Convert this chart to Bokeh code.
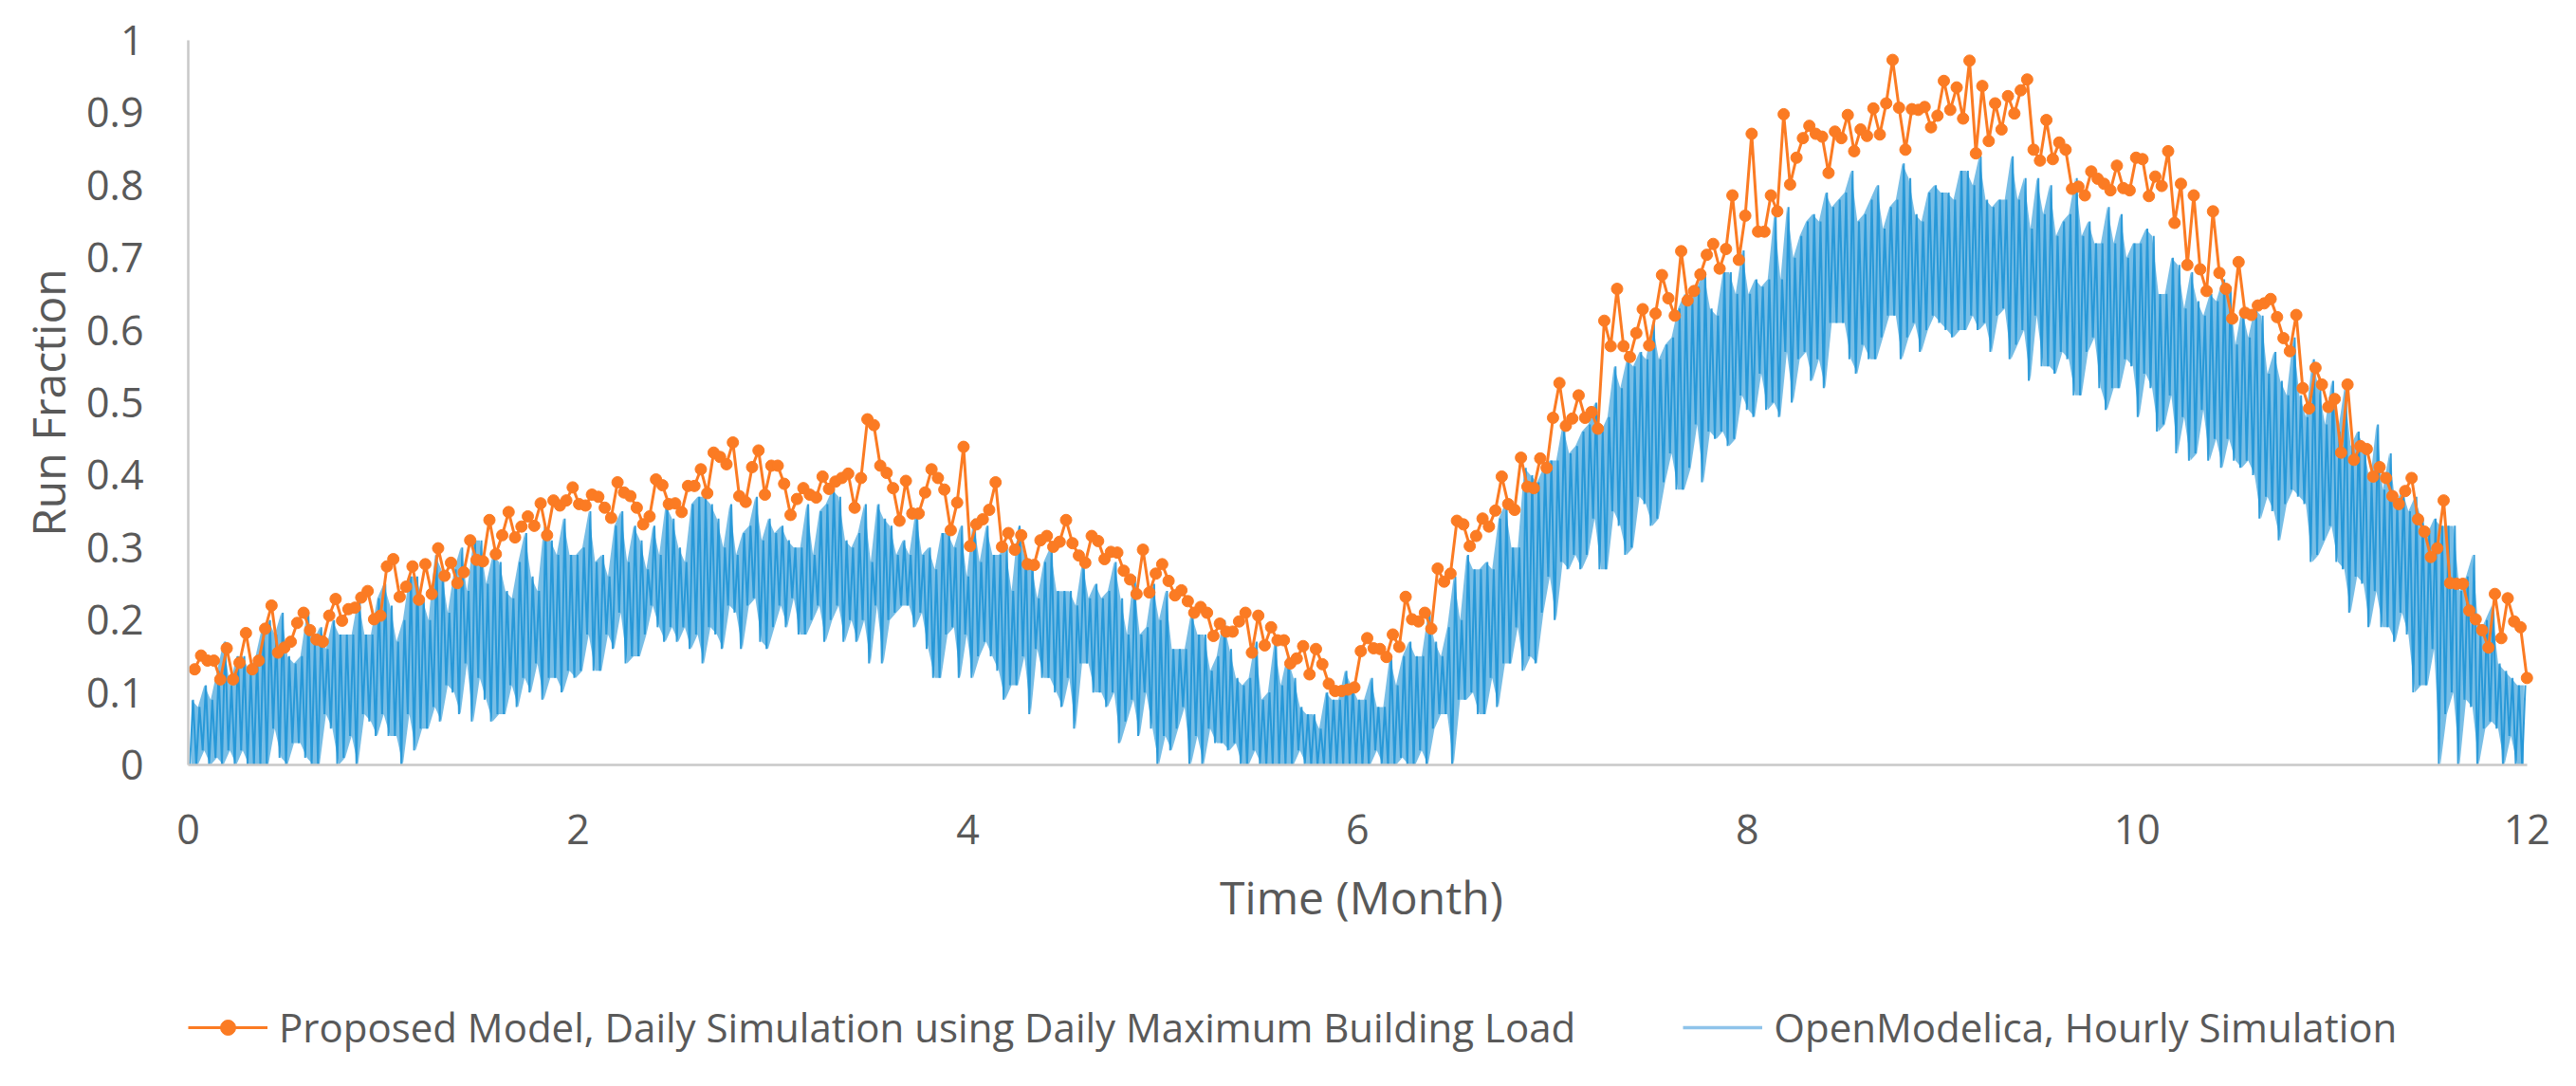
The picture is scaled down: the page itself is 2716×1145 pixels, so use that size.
import numpy as np
from bokeh.plotting import figure
from bokeh.layouts import column
from bokeh.models import Range1d, Legend, LegendItem, FixedTicker, CustomJSTickFormatter
from bokeh.embed import file_html
from bokeh.resources import INLINE

# ---------------- data ----------------
# Proposed model, daily simulation (one value per day, day 1..365)
proposed = [
    .132, .151, .144, .144, .118, .161, .118, .141, .182, .132,
    .144, .188, .220, .155, .162, .170, .196, .210, .186, .173,
    .170, .206, .229, .199, .215, .217, .231, .240, .201, .206,
    .274, .284, .232, .246, .274, .228, .277, .236, .299, .261,
    .279, .251, .266, .310, .283, .281, .338, .291, .317, .349,
    .314, .329, .343, .330, .361, .317, .365, .358, .365, .383,
    .360, .358, .373, .370, .355, .341, .390, .376, .371, .355,
    .332, .343, .394, .386, .360, .361, .349, .385, .385, .408,
    .375, .431, .425, .415, .445, .371, .363, .411, .434,
    .373, .413, .413, .388, .345, .367, .382, .373, .369, .398,
    .381, .391, .396, .402, .355, .396, .477, .469, .413, .403,
    .382, .337, .392, .347, .347, .376, .408, .396, .380, .324,
    .362, .439, .302, .332, .339, .352, .390, .301, .320, .297, .317,
    .277, .276, .310, .316, .301, .308, .338, .306, .289, .279,
    .316, .309, .284, .294, .293, .268, .256, .236, .297, .238,
    .264, .277, .254, .234, .241, .226, .210, .218, .210, .178, .195,
    .184, .184, .198, .210, .155, .206, .165, .190, .172, .172,
    .140, .147, .164, .125, .160, .139, .112, .102,
    .102, .104, .107, .157, .175, .161, .160, .149, .180, .163,
    .232, .201, .198, .210, .188, .271, .253, .264, .337, .332,
    .302, .316, .340, .329, .351, .398, .360, .352, .424, .384,
    .382, .423, .410, .479, .527, .468, .478, .510, .479, .487,
    .464, .613, .578, .657, .578, .563, .596, .629, .579, .623,
    .676, .644, .620, .709, .641, .654, .677, .704, .719, .685,
    .712, .786, .697, .758, .871, .736, .736, .786, .764, .898,
    .801, .838, .865, .882, .871, .867, .817, .874, .865, .897,
    .847, .877, .868, .906, .870, .913, .973, .907, .849, .905,
    .904, .908, .880, .896, .944, .904, .935, .892, .972, .844,
    .937, .861, .913, .877, .923, .899, .931, .946, .849, .834,
    .890, .836, .859, .849, .795, .798, .786, .819, .809, .802,
    .793, .827, .796, .793, .838, .836, .785, .812, .799, .847, .748,
    .802, .690, .786, .684, .654, .764, .679, .657, .616, .694,
    .624, .621, .634, .637, .643, .618, .589, .571, .621, .520,
    .492, .548, .525, .494, .505, .431, .525, .421, .440, .436,
    .398, .411, .396, .371, .360, .378, .396, .339, .322, .287, .299,
    .365, .251, .250, .250, .213, .201, .186, .162, .236, .175,
    .230, .198, .190, .120,
]

# OpenModelica hourly simulation, summarised as daily high / low (percent)
hourly_hi = [
    9, 8, 11, 9, 13, 17, 11, 15, 15, 13,
    15, 19, 20, 18, 21, 15, 14, 15, 21, 17,
    19, 16, 20, 18, 18, 18, 23, 18, 18, 23,
    25, 22, 17, 20, 26, 26, 23, 20, 29, 27,
    21, 27, 30, 24, 31, 31, 25, 29, 28, 24,
    23, 28, 32, 26, 24, 33, 31, 29, 34, 29,
    29, 30, 35, 28, 29, 26, 33, 35, 28, 33,
    31, 27, 33, 29, 36, 34, 30, 28, 36, 37,
    37, 36, 34, 30, 36, 29, 32, 33, 37, 31,
    34, 32, 33, 31, 30, 30, 36, 29, 35, 36,
    38, 37, 31, 30, 32, 36, 28, 36, 34, 33,
    29, 31, 29, 35, 29, 30, 27, 32, 32, 30,
    33, 26, 34, 28, 33, 29, 29, 30, 24, 33,
    29, 28, 23, 28, 30, 24, 24, 24, 22, 28,
    23, 25, 23, 24, 28, 23, 18, 26, 18, 19,
    25, 20, 24, 16, 16, 16, 21, 18, 18, 13,
    15, 20, 16, 12, 11, 12, 17, 9, 10, 17,
    11, 15, 12, 8, 7, 7, 5, 10, 9, 9,
    13, 11, 9, 9, 12, 8, 8, 15, 11, 15,
    17, 15, 15, 21, 17, 15, 19, 26, 20, 29,
    27, 27, 28, 27, 34, 36, 30, 30, 41, 40,
    39, 41, 42, 42, 47, 43, 44, 46, 47, 50,
    46, 48, 55, 52, 56, 55, 57, 56, 61, 56,
    58, 59, 63, 65, 64, 66, 68, 63, 62, 68,
    68, 65, 71, 65, 67, 66, 67, 76, 67, 77,
    70, 73, 75, 76, 75, 79, 77, 78, 79, 82,
    75, 76, 78, 80, 74, 77, 78, 83, 81, 76,
    75, 79, 80, 79, 79, 78, 82, 82, 80, 84,
    78, 77, 78, 78, 84, 78, 81, 74, 81, 76,
    80, 73, 75, 76, 81, 73, 75, 72, 72, 77,
    72, 76, 70, 72, 72, 74, 73, 65, 65, 70,
    69, 63, 68, 64, 62, 65, 64, 67, 66, 58,
    63, 59, 63, 62, 54, 57, 53, 51, 59, 51,
    48, 56, 52, 47, 53, 46, 52, 44, 46, 44,
    39, 47, 38, 43, 36, 38, 35, 37, 34, 32,
    34, 33, 33, 33, 24, 26, 29, 18, 20, 22,
    14, 13, 12, 11, 11,
]
hourly_lo = [
    0, 0, 2, 0, 1, 0, 2, 0, 2, 0,
    0, 0, 0, 5, 1, 0, 3, 3, 1, 0,
    0, 7, 5, 0, 1, 4, 0, 7, 6, 4,
    7, 4, 4, 0, 7, 2, 5, 5, 8, 6,
    11, 10, 7, 14, 6, 12, 9, 6, 7, 7,
    11, 8, 12, 10, 14, 9, 12, 12, 10, 13,
    12, 13, 18, 13, 13, 18, 16, 21, 14, 15,
    15, 18, 22, 19, 17, 19, 17, 19, 16, 18,
    14, 19, 18, 16, 22, 21, 16, 22, 23, 17,
    16, 19, 22, 19, 23, 18, 18, 20, 22, 17,
    20, 22, 17, 20, 17, 20, 14, 22, 14, 20,
    21, 22, 22, 19, 21, 16, 12, 12, 18, 19,
    12, 18, 12, 15, 17, 15, 13, 9, 11, 11,
    15, 7, 16, 12, 12, 10, 8, 12, 5, 14,
    14, 10, 10, 8, 10, 3, 6, 9, 4, 10,
    5, 0, 4, 2, 5, 8, 0, 4, 0, 5,
    3, 3, 2, 3, 0, 0, 2, 0, 0, 0,
    0, 0, 0, 2, 0, 0, 0, 0, 0, 0,
    0, 0, 0, 0, 0, 2, 0, 0, 0, 1,
    0, 0, 2, 0, 5, 7, 7, 0, 9, 9,
    10, 7, 7, 12, 8, 14, 14, 19, 13, 15,
    14, 21, 26, 20, 28, 27, 29, 27, 29, 34,
    27, 27, 35, 33, 29, 30, 37, 36, 33, 34,
    39, 43, 38, 38, 41, 47, 39, 46, 45, 46,
    44, 45, 51, 49, 48, 54, 49, 50, 48, 57,
    50, 56, 57, 53, 56, 52, 61, 61, 61, 56,
    54, 58, 56, 56, 59, 62, 62, 56, 59, 61,
    57, 60, 62, 61, 60, 59, 60, 60, 62, 60,
    61, 57, 62, 63, 56, 58, 60, 53, 62, 55,
    55, 54, 57, 56, 51, 51, 57, 59, 52, 49,
    52, 52, 56, 55, 48, 54, 52, 46, 47, 51,
    43, 48, 42, 43, 49, 42, 45, 41, 45, 42,
    41, 42, 40, 34, 37, 35, 31, 36, 38, 37,
    36, 28, 29, 31, 33, 28, 27, 21, 26, 25,
    19, 24, 19, 19, 17, 21, 18, 10, 11, 11,
    16, 0, 7, 10, 0, 9, 8, 0, 5, 6,
    5, 0, 4, 0, 0,
]

x_ticks = [0, 2, 4, 6, 8, 10, 12]
y_ticks = [0, 0.1, 0.2, 0.3, 0.4, 0.5, 0.6, 0.7, 0.8, 0.9, 1.0]
months_in_year = 12
days_in_year = len(proposed)

# ---------------- positions from indices ----------------
day = np.arange(1, days_in_year + 1)
month_daily = day * months_in_year / days_in_year

n_h = len(hourly_hi)
d = np.arange(n_h)
lo_arr = np.array(hourly_lo) / 100.0
hi_arr = np.array(hourly_hi) / 100.0
# hourly trace drawn as the daily swing low -> high
hx = np.empty(2 * n_h)
hy = np.empty(2 * n_h)
hx[0::2] = (d + 0.25) * months_in_year / n_h
hx[1::2] = (d + 0.75) * months_in_year / n_h
hy[0::2] = lo_arr
hy[1::2] = hi_arr
band_x = (d + 0.5) * months_in_year / n_h

FONT = "Open Sans"
TXT = "#595959"
ORANGE = "#FB7B23"
BLUE = "#1E93D6"
W = 2700
MAIN_H = 1010
KEY_H = 119
TOP = 42
FRAME_H = 764

p = figure(width=W, height=MAIN_H,
           x_range=Range1d(0, 12.04), y_range=Range1d(0, 1.0),
           output_backend="svg", toolbar_location=None,
           min_border_left=198, min_border_right=28,
           min_border_top=TOP, min_border_bottom=MAIN_H - TOP - FRAME_H)
p.outline_line_color = None
p.xgrid.visible = False
p.ygrid.visible = False
p.background_fill_color = "white"

band = p.varea(x=band_x, y1=lo_arr, y2=hi_arr, fill_color=BLUE, fill_alpha=0.6)
blue = p.line(hx, hy, line_color=BLUE, line_width=2.0, line_alpha=0.9)
oline = p.line(month_daily, proposed, line_color=ORANGE, line_width=3)
omark = p.scatter(month_daily, proposed, size=12, fill_color=ORANGE, line_color=ORANGE)

for ax in (p.xaxis[0], p.yaxis[0]):
    ax.axis_line_color = "#C8C8C8"
    ax.axis_line_width = 2.5
    ax.major_tick_line_color = None
    ax.minor_tick_line_color = None
    ax.major_tick_in = 0
    ax.major_tick_out = 0
    ax.major_label_text_font = FONT
    ax.major_label_text_color = TXT
    ax.major_label_text_font_size = "43px"
    ax.axis_label_text_font = FONT
    ax.axis_label_text_color = TXT
    ax.axis_label_text_font_size = "48px"
    ax.axis_label_text_font_style = "normal"

p.xaxis[0].ticker = FixedTicker(ticks=x_ticks)
p.xaxis[0].bounds = (0, 12)
p.xaxis[0].axis_label = "Time (Month)"
p.xaxis[0].major_label_standoff = 52
p.xaxis[0].axis_label_standoff = 20

p.yaxis[0].ticker = FixedTicker(ticks=y_ticks)
p.yaxis[0].bounds = (0, 1)
p.yaxis[0].axis_label = "Run Fraction"
p.yaxis[0].major_label_standoff = 47
p.yaxis[0].axis_label_standoff = 5
p.yaxis[0].formatter = CustomJSTickFormatter(
    code="var s = tick.toFixed(1); return s.endsWith('.0') ? s.slice(0, -2) : s;")

# ---------------- legend strip (key for the two series) ----------------
# the key glyphs reuse the first data point, placed outside this strip's view
k = figure(width=W, height=KEY_H, x_range=Range1d(-3, -2), y_range=Range1d(-3, -2),
           output_backend="svg", toolbar_location=None,
           min_border=0, x_axis_location=None, y_axis_location=None)
k.outline_line_color = None
k.xgrid.visible = False
k.ygrid.visible = False
key_oline = k.line(month_daily[:1], proposed[:1], line_color=ORANGE, line_width=3)
key_omark = k.scatter(month_daily[:1], proposed[:1], size=11, fill_color=ORANGE, line_color=ORANGE)
key_blue = k.line(hx[:1], hy[:1], line_color="#8EC3EA", line_width=3.5)

legend = Legend(
    items=[
        LegendItem(label="Proposed Model, Daily Simulation using Daily Maximum Building Load",
                   renderers=[key_oline, key_omark]),
        LegendItem(label="OpenModelica, Hourly Simulation", renderers=[key_blue]),
    ],
    orientation="horizontal",
    location=(0, 18),
    glyph_width=84, glyph_height=40,
    label_standoff=12, spacing=113,
    padding=0, margin=0,
    border_line_color=None, background_fill_alpha=0,
    label_text_font=FONT, label_text_font_size="42px", label_text_color=TXT,
)
k.add_layout(legend, "center")

layout = column(p, k, spacing=0)
open("out.html", "w").write(file_html(layout, INLINE))
